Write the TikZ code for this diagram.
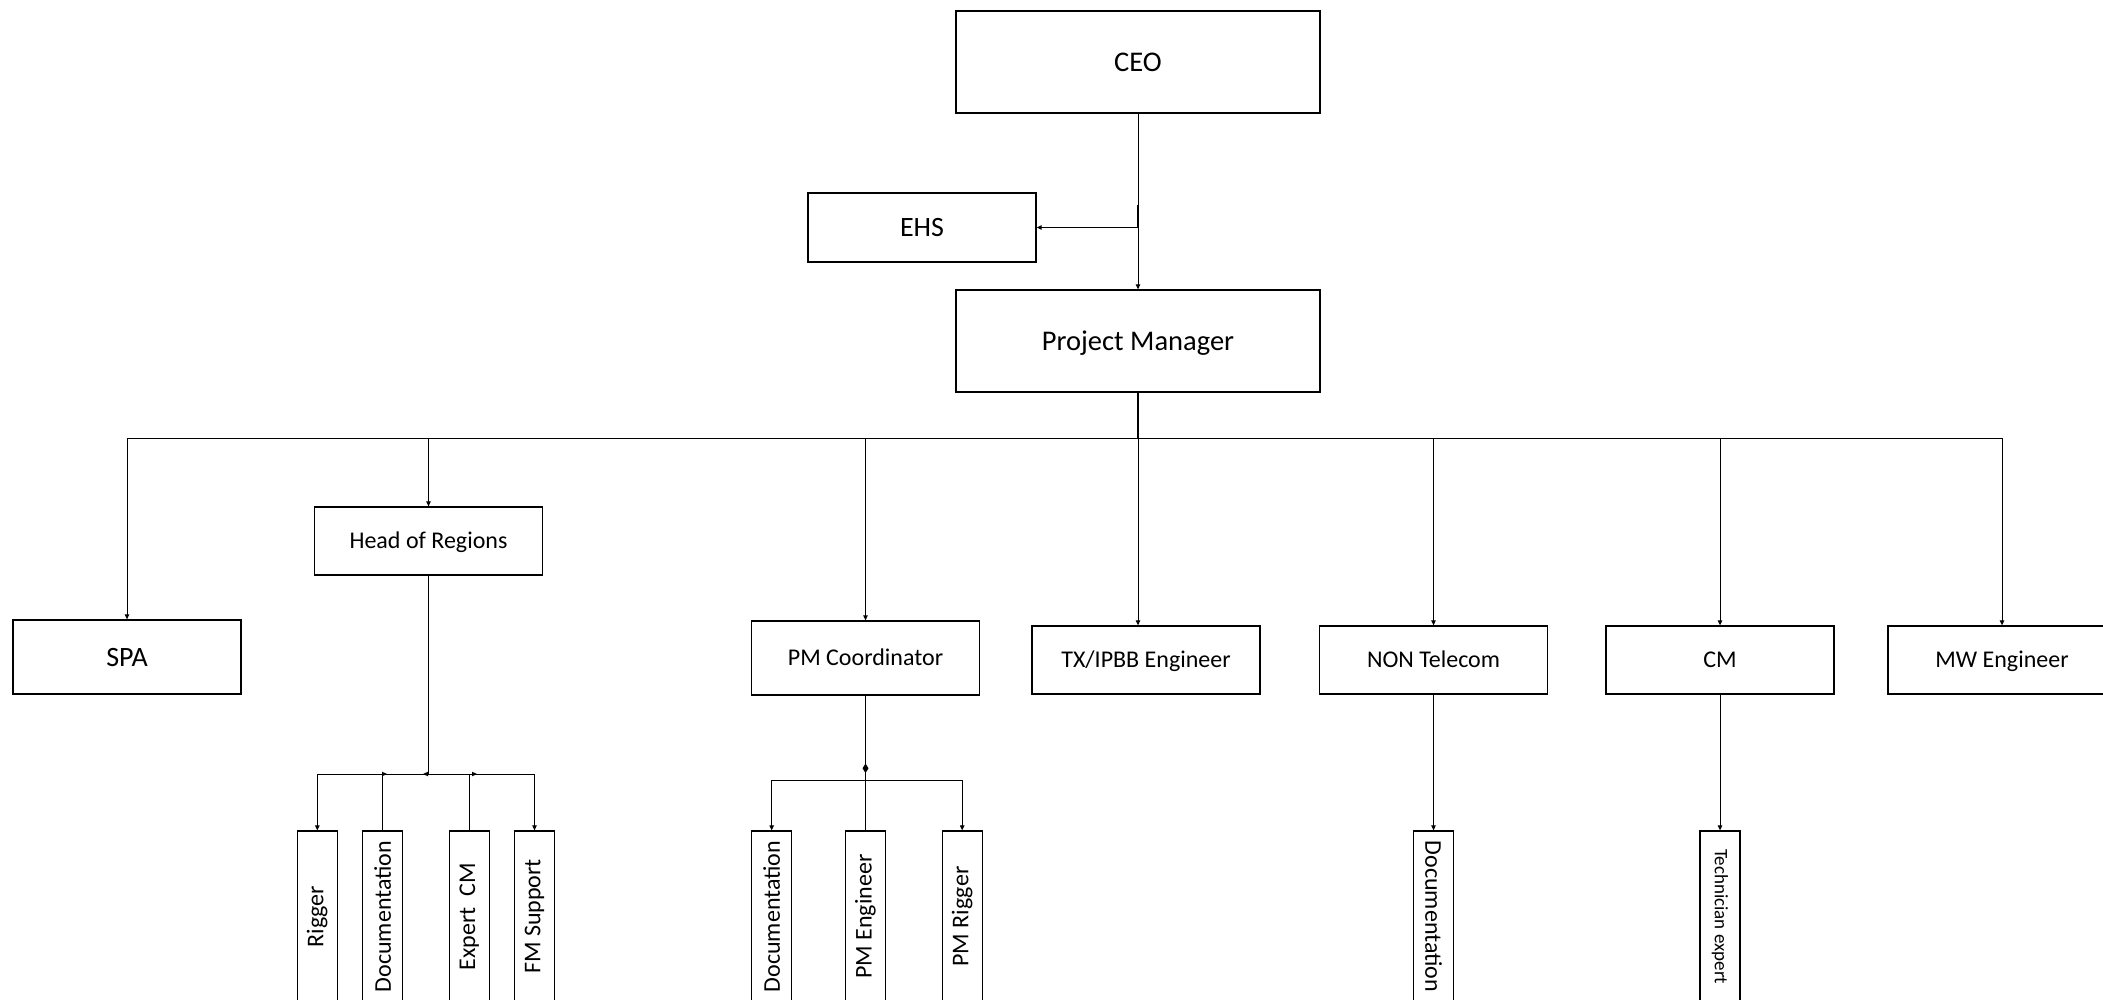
\documentclass[tikz,border=0pt]{standalone}
\usepackage{fontspec}
\setmainfont{Carlito}
\usetikzlibrary{arrows.meta,shapes.geometric}
\begin{document}
\begin{tikzpicture}[x=1pt,y=-1pt,
  box/.style={draw=black, line width=1.3pt, rectangle, inner sep=0pt, align=center, fill=white, text=black},
  bigbox/.style={box, minimum width=364pt, minimum height=102pt, font=\fontsize{28.5}{33}\selectfont, text height=22.8pt, text depth=4.45pt},
  wbox/.style={box, minimum width=228pt, font=\fontsize{24}{29}\selectfont, text height=19.2pt, text depth=3.74pt},
  lbox/.style={box, minimum width=228pt, font=\fontsize{28}{33}\selectfont, text height=22.4pt, text depth=4.37pt},
  vbox/.style={box, minimum width=40pt, minimum height=171pt, font=\fontsize{24}{29}\selectfont},
  conn/.style={draw=black, line width=1pt},
  arr/.style={conn, -{Triangle[length=5pt,width=4.5pt]}},
  tipmark/.style={draw=none, fill=black}
]
\useasboundingbox (0,0) rectangle (2103,1000);
\clip (0,0) rectangle (2103,1000);

% top
\node[bigbox] (CEO) at (1138,62) {CEO};
\node[lbox, minimum height=69pt] (EHS) at (922,227.5) {EHS};
\node[bigbox] (PM) at (1138,341) {Project Manager};

% second row
\node[lbox, minimum height=74pt] (SPA) at (127,657) {SPA};
\node[wbox, minimum height=68pt] (HoR) at (428.5,541) {Head of Regions};
\node[wbox, minimum height=74pt] (PMC) at (865.5,658) {PM Coordinator};
\node[wbox, minimum height=68pt] (TX) at (1146,660) {TX/IPBB Engineer};
\node[wbox, minimum height=68pt] (NON) at (1433.5,660) {NON Telecom};
\node[wbox, minimum height=68pt] (CM) at (1720,660) {CM};
\node[wbox, minimum height=68pt] (MW) at (2002,660) {MW Engineer};

% bottom vertical boxes
\node[vbox] (Rig) at (317.3,916.5) {\rotatebox{90}{Rigger}};
\node[vbox] (Doc1) at (382.7,916.5) {\rotatebox{90}{Documentation}};
\node[vbox] (ECM) at (469.3,916.5) {\rotatebox{90}{Expert\ \ CM}};
\node[vbox] (FMS) at (534.5,916.5) {\rotatebox{90}{FM Support}};
\node[vbox] (Doc2) at (771.7,916.5) {\rotatebox{90}{Documentation}};
\node[vbox] (PMEng) at (865.5,916.5) {\rotatebox{90}{PM Engineer}};
\node[vbox] (PMRig) at (962.2,916.5) {\rotatebox{90}{PM Rigger}};
\node[vbox] (Doc3) at (1433.5,916.5) {\rotatebox{-90}{Documentation}};
\node[vbox, font=\fontsize{19}{23}\selectfont] (Tech) at (1720,916.5) {\rotatebox{-90}{Technician expert}};

% CEO -> PM, EHS
\draw[arr] (CEO.south) -- (PM.north);
\coordinate (j1) at (1138,205);
\draw[arr, line width=1.3pt] (j1) |- (EHS.east);

% PM -> bus
\coordinate (bus) at (1138,438);
\draw[conn, line width=2pt] (PM.south) -- (bus);
\draw[arr] (bus) -| (SPA.north);
\draw[arr] (bus) -| (HoR.north);
\draw[arr] (bus) -| (PMC.north);
\draw[arr] (bus) -- (bus |- TX.north);
\draw[arr] (bus) -| (NON.north);
\draw[arr] (bus) -| (CM.north);
\draw[arr] (bus) -| (MW.north);

% Head of Regions sub-bus
\coordinate (hb) at (428.5,774);
\draw[conn] (HoR.south) -- (hb);
\draw[arr] (hb) -| (Rig.north);
\draw[arr] (hb) -| (FMS.north);
\draw[conn] (hb) -| (Doc1.north);
\draw[conn] (hb) -| (ECM.north);
\fill[tipmark] (387,774) -- (382,771.7) -- (382,776.3) -- cycle;
\fill[tipmark] (423,774) -- (428,771.7) -- (428,776.3) -- cycle;
\fill[tipmark] (477,774) -- (472,771.7) -- (472,776.3) -- cycle;

% PM Coordinator sub-bus
\coordinate (pb) at (865.5,780);
\draw[conn] (PMC.south) -- (PMEng.north);
\draw[arr] (pb) -| (Doc2.north);
\draw[arr] (pb) -| (PMRig.north);
\fill[tipmark] (865.5,763.5) -- (868.5,768.3) -- (865.5,773) -- (862.5,768.3) -- cycle;

% NON Telecom, CM children
\draw[arr] (NON.south) -- (Doc3.north);
\draw[arr] (CM.south) -- (Tech.north);
\end{tikzpicture}
\end{document}
